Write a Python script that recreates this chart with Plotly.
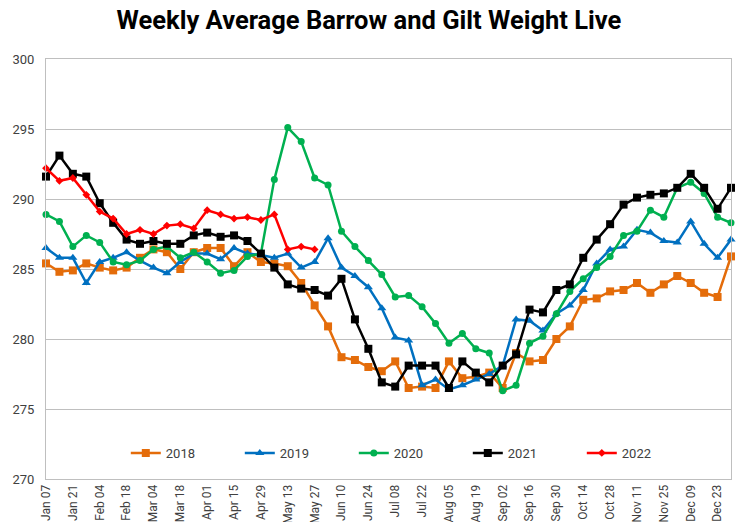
import pandas as pd
import plotly.graph_objects as go

weeks = list(pd.date_range("2018-01-07", periods=52, freq="7D").strftime("%b %d"))
tick_labels = weeks[::2]

y2018 = [285.4, 284.8, 284.9, 285.4, 285.1, 284.9, 285.1, 285.8, 286.4, 286.2,
         285.0, 286.2, 286.5, 286.5, 285.2, 286.2, 285.5, 285.4, 285.2, 284.0,
         282.4, 280.9, 278.7, 278.5, 278.0, 277.7, 278.4, 276.5, 276.6, 276.5,
         278.4, 277.2, 277.3, 277.6, 276.5, 279.0, 278.4, 278.5, 280.0, 280.9,
         282.8, 282.9, 283.4, 283.5, 284.0, 283.3, 283.9, 284.5, 284.0, 283.3,
         283.0, 285.9]
y2019 = [286.5, 285.8, 285.8, 284.0, 285.5, 285.8, 286.2, 285.6, 285.1, 284.7,
         285.5, 286.1, 286.1, 285.7, 286.5, 286.1, 286.0, 285.8, 286.1, 285.1,
         285.5, 287.2, 285.1, 284.5, 283.7, 282.2, 280.1, 279.9, 276.7, 277.1,
         276.4, 276.7, 277.1, 277.5, 278.1, 281.4, 281.3, 280.6, 281.8, 282.4,
         283.5, 285.4, 286.4, 286.6, 287.8, 287.6, 287.0, 286.9, 288.4, 286.8,
         285.8, 287.1]
y2020 = [288.9, 288.4, 286.6, 287.4, 286.9, 285.5, 285.3, 285.6, 286.4, 286.6,
         285.8, 286.2, 285.5, 284.7, 284.9, 285.9, 286.1, 291.4, 295.1, 294.1,
         291.5, 291.0, 287.7, 286.6, 285.6, 284.6, 283.0, 283.1, 282.3, 281.1,
         279.7, 280.4, 279.3, 279.0, 276.3, 276.7, 279.7, 280.2, 281.8, 283.4,
         284.3, 285.1, 285.9, 287.4, 287.7, 289.2, 288.7, 290.8, 291.2, 290.4,
         288.7, 288.3]
y2021 = [291.6, 293.1, 291.8, 291.6, 289.7, 288.3, 287.1, 286.8, 287.0, 286.8,
         286.8, 287.4, 287.6, 287.3, 287.4, 287.0, 286.1, 285.1, 283.9, 283.6,
         283.5, 283.1, 284.3, 281.4, 279.3, 276.9, 276.6, 278.1, 278.1, 278.1,
         276.5, 278.4, 277.6, 276.9, 278.1, 278.9, 282.1, 281.9, 283.5, 283.9,
         285.8, 287.1, 288.2, 289.6, 290.1, 290.3, 290.4, 290.8, 291.8, 290.8,
         289.3, 290.8]
y2022 = [292.2, 291.3, 291.5, 290.3, 289.1, 288.6, 287.5, 287.8, 287.5, 288.1,
         288.2, 287.9, 289.2, 288.9, 288.6, 288.7, 288.5, 288.9, 286.4, 286.6,
         286.4]

series = [
    ("2018", y2018, "#E46C0A", "square", 8),
    ("2019", y2019, "#0070C0", "triangle-up", 8),
    ("2020", y2020, "#00B050", "circle", 7),
    ("2021", y2021, "#000000", "square", 8),
    ("2022", y2022, "#FF0000", "diamond", 6),
]

fig = go.Figure()
for name, vals, color, sym, size in series:
    fig.add_trace(go.Scatter(
        x=weeks[:len(vals)], y=vals, name=name, mode="lines+markers",
        line=dict(color=color, width=2.5),
        marker=dict(symbol=sym, size=size, color=color),
        cliponaxis=False,
    ))

fig.update_layout(
    width=738, height=522,
    margin=dict(l=46, r=7, t=59, b=43, autoexpand=False),
    paper_bgcolor="white", plot_bgcolor="white",
    title=dict(text="<b>Weekly Average Barrow and Gilt Weight Live</b>",
               x=0.5, xanchor="center", y=0.962, yanchor="middle",
               font=dict(family="Roboto, Open Sans, sans-serif", size=25.5, color="#000000")),
    font=dict(family="Roboto, Open Sans, sans-serif", size=12, color="#404040"),
    legend=dict(orientation="h", x=0.1165, xanchor="left", y=0.062, yanchor="middle",
                bgcolor="rgba(0,0,0,0)", entrywidth=69, entrywidthmode="pixels",
                font=dict(size=13, color="#404040")),
    showlegend=True,
)
fig.update_xaxes(
    type="category", categoryorder="array", categoryarray=weeks,
    range=[0, 51], tickmode="array", tickvals=tick_labels, ticktext=tick_labels,
    tickangle=-90, showgrid=False, showline=True, linecolor="#BFBFBF", linewidth=1,
    mirror=True, ticks="", tickfont=dict(size=12, color="#404040"), automargin=False,
)
fig.update_yaxes(
    range=[270, 300], dtick=5, showgrid=True, gridcolor="#BFBFBF", gridwidth=1,
    showline=True, linecolor="#BFBFBF", linewidth=1, mirror=True, ticks="",
    zeroline=False, tickfont=dict(size=13, color="#404040"), ticklabelstandoff=8,
    automargin=False,
)
fig.write_html("out.html", config={"displayModeBar": False},
               post_script="document.body.style.margin='0';")
